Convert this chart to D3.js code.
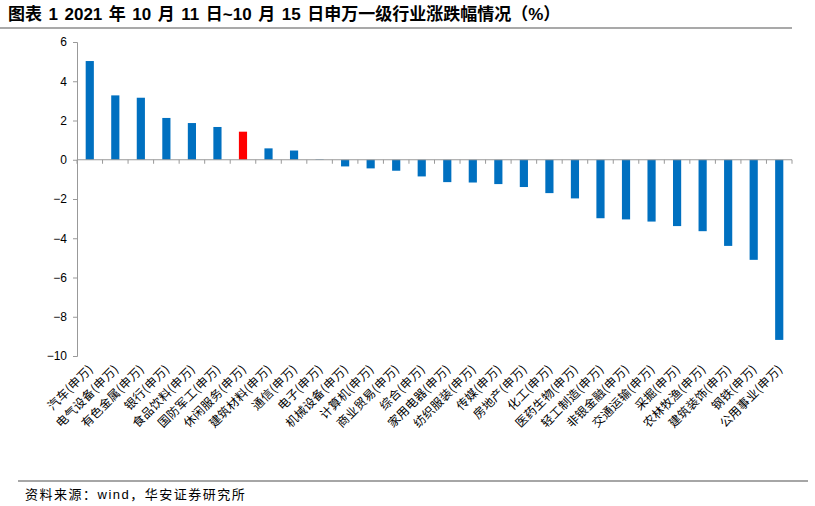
<!DOCTYPE html>
<html>
<head>
<meta charset="utf-8">
<script src="https://cdn.jsdelivr.net/npm/d3@7"></script>
<style>
  body { margin: 0; background: #fff; }
  svg { display: block; }
</style>
</head>
<body>
<div id="chart"></div>
<script>
const industries = ["汽车", "电气设备", "有色金属", "银行", "食品饮料", "国防军工", "休闲服务",
  "建筑材料", "通信", "电子", "机械设备", "计算机", "商业贸易", "综合", "家用电器", "纺织服装",
  "传媒", "房地产", "化工", "医药生物", "轻工制造", "非银金融", "交通运输", "采掘", "农林牧渔",
  "建筑装饰", "钢铁", "公用事业"];
const changes = [5.03, 3.28, 3.16, 2.13, 1.87, 1.67, 1.43, 0.58, 0.47, 0.02, -0.34, -0.44, -0.56,
  -0.85, -1.14, -1.16, -1.24, -1.39, -1.70, -1.97, -2.98, -3.04, -3.15, -3.38, -3.64, -4.39, -5.10, -9.18];
const highlight = "休闲服务";
const yTicks = [6, 4, 2, 0, -2, -4, -6, -8, -10];

const width = 815;
const height = 506;
const left = 77;
const right = 792;

const svg = d3.select("#chart")
  .append("svg")
  .attr("width", width)
  .attr("height", height);

// Title and rules
svg.append("text")
  .attr("x", 8)
  .attr("y", 20)
  .attr("font-family", "'Liberation Sans', 'Noto Sans CJK SC', sans-serif")
  .attr("font-weight", "bold")
  .attr("font-size", "17px")
  .attr("word-spacing", "1.8px")
  .attr("fill", "#000")
  .text("图表 1 2021 年 10 月 11 日~10 月 15 日申万一级行业涨跌幅情况（%）");

svg.append("line")
  .attr("x1", 0).attr("x2", 792)
  .attr("y1", 28).attr("y2", 28)
  .attr("stroke", "#555")
  .attr("stroke-width", 1.2);

svg.append("line")
  .attr("x1", 18).attr("x2", 808)
  .attr("y1", 481).attr("y2", 481)
  .attr("stroke", "#888")
  .attr("stroke-width", 1.5);

svg.append("text")
  .attr("x", 25)
  .attr("y", 499)
  .attr("font-family", "'Liberation Sans', 'Noto Sans CJK SC', sans-serif")
  .attr("font-size", "13px")
  .attr("letter-spacing", "1.5px")
  .attr("fill", "#000")
  .text("资料来源：wind，华安证券研究所");

// Scales
const x = d3.scaleBand()
  .domain(industries)
  .range([left, right])
  .paddingInner(0.68)
  .paddingOuter(0.34);

const y = d3.scaleLinear()
  .domain([-10, 6])
  .range([356, 42]);

// Y axis
const yAxis = svg.append("g")
  .attr("transform", `translate(${left},0)`)
  .call(d3.axisLeft(y).tickValues(yTicks).tickSize(4).tickPadding(6));
yAxis.select(".domain").attr("stroke", "#999");
yAxis.selectAll(".tick line").attr("stroke", "#999");
yAxis.selectAll(".tick text")
  .attr("font-family", "'Liberation Sans', Arial, sans-serif")
  .attr("font-size", "12px")
  .attr("fill", "#000");

// Bars
svg.append("g")
  .selectAll("rect")
  .data(industries)
  .enter()
  .append("rect")
  .attr("x", d => x(d))
  .attr("width", x.bandwidth())
  .attr("y", (d, i) => y(Math.max(0, changes[i])))
  .attr("height", (d, i) => Math.abs(y(changes[i]) - y(0)))
  .attr("fill", d => d === highlight ? "#FF0000" : "#0070C0");

// Zero line with ticks between categories
const zero = y(0);
svg.append("line")
  .attr("x1", left).attr("x2", right)
  .attr("y1", zero).attr("y2", zero)
  .attr("stroke", "#999")
  .attr("stroke-width", 1);

const step = x.step();
svg.append("g")
  .selectAll("line")
  .data(d3.range(industries.length + 1))
  .enter()
  .append("line")
  .attr("x1", k => left + k * step)
  .attr("x2", k => left + k * step)
  .attr("y1", zero)
  .attr("y2", zero + 4)
  .attr("stroke", "#999");

// Category labels, rotated
svg.append("g")
  .selectAll("text")
  .data(industries)
  .enter()
  .append("text")
  .attr("transform", d => `translate(${x(d) + x.bandwidth() / 2 + 4},${370}) rotate(-45)`)
  .attr("text-anchor", "end")
  .attr("font-family", "'Noto Sans CJK SC', sans-serif")
  .attr("font-size", "12px")
  .attr("letter-spacing", "0.3px")
  .attr("fill", "#000")
  .text(d => d + "(申万)");
</script>
</body>
</html>
